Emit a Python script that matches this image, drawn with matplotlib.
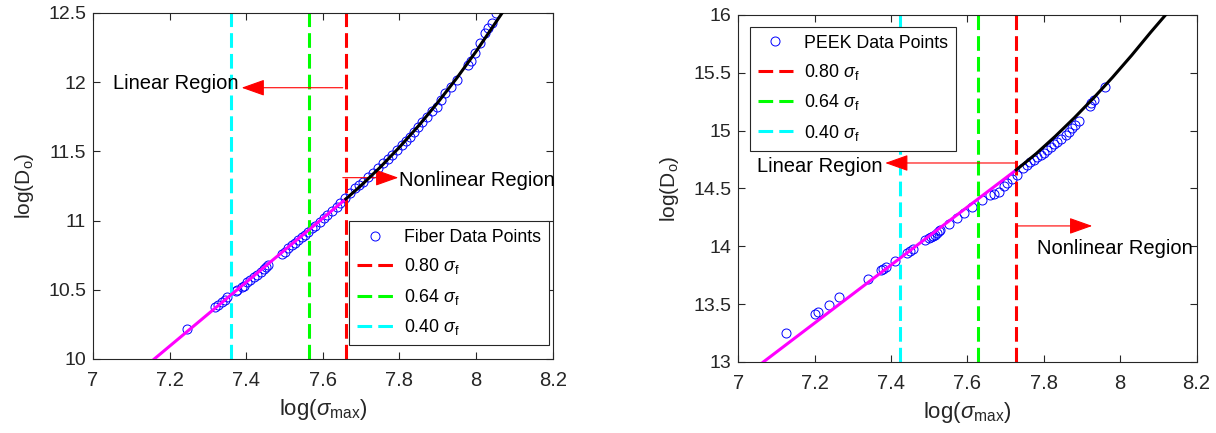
import matplotlib
matplotlib.use('Agg')
import matplotlib.pyplot as plt
from matplotlib.ticker import FormatStrFormatter

plt.rcParams['font.family'] = ['Liberation Sans', 'DejaVu Sans']
plt.rcParams['mathtext.fontset'] = 'custom'
plt.rcParams['mathtext.rm'] = 'Liberation Sans'
plt.rcParams['mathtext.it'] = 'Liberation Sans:italic'

# fiber data
fiber_x = [7.246, 7.319, 7.327, 7.336, 7.344, 7.351, 7.372, 7.377, 7.388, 7.394,
           7.402, 7.410, 7.420, 7.427, 7.438, 7.446, 7.452, 7.458, 7.494, 7.501,
           7.510, 7.520, 7.528, 7.536, 7.545, 7.554, 7.562, 7.571, 7.580, 7.593,
           7.602, 7.610, 7.624, 7.636, 7.645, 7.658, 7.671, 7.684, 7.695, 7.706,
           7.719, 7.732, 7.745, 7.758, 7.769, 7.780, 7.793, 7.806, 7.817, 7.828,
           7.838, 7.849, 7.860, 7.871, 7.884, 7.897, 7.908, 7.919, 7.935, 7.950,
           7.980, 7.987, 7.997, 8.010, 8.023, 8.031, 8.041, 8.051]
fiber_y = [10.215, 10.373, 10.392, 10.414, 10.428, 10.446, 10.490, 10.499, 10.518, 10.530,
           10.553, 10.571, 10.592, 10.607, 10.631, 10.648, 10.664, 10.679, 10.762, 10.775,
           10.800, 10.822, 10.840, 10.860, 10.878, 10.896, 10.918, 10.944, 10.962, 10.992,
           11.018, 11.040, 11.070, 11.100, 11.128, 11.161, 11.196, 11.233, 11.258, 11.281,
           11.313, 11.342, 11.378, 11.414, 11.444, 11.474, 11.508, 11.546, 11.576, 11.606,
           11.642, 11.678, 11.713, 11.751, 11.790, 11.823, 11.870, 11.920, 11.968, 12.016,
           12.124, 12.150, 12.209, 12.281, 12.353, 12.390, 12.426, 12.498]
fiber_lin_x = [7.16, 7.66]
fiber_lin_y = [10.0, 11.156]
fiber_nl_x = [7.66, 7.70, 7.75, 7.80, 7.85, 7.90, 7.95, 8.00, 8.068]
fiber_nl_y = [11.156, 11.254, 11.386, 11.53, 11.685, 11.853, 12.031, 12.222, 12.5]
fiber_sigma = [7.66, 7.564, 7.36]

# PEEK data
peek_x = [7.126, 7.200, 7.209, 7.238, 7.265, 7.340, 7.375, 7.380, 7.387, 7.410,
          7.442, 7.450, 7.457, 7.490, 7.500, 7.505, 7.510, 7.515, 7.520, 7.525,
          7.529, 7.551, 7.573, 7.590, 7.612, 7.638, 7.660, 7.670, 7.682, 7.695,
          7.705, 7.717, 7.730, 7.745, 7.756, 7.765, 7.775, 7.783, 7.792, 7.800,
          7.809, 7.818, 7.826, 7.835, 7.845, 7.857, 7.866, 7.875, 7.883, 7.892,
          7.920, 7.925, 7.931, 7.960]
peek_y = [13.254, 13.413, 13.430, 13.494, 13.560, 13.718, 13.796, 13.806, 13.825, 13.876,
          13.946, 13.962, 13.980, 14.055, 14.072, 14.082, 14.090, 14.100, 14.113, 14.128,
          14.142, 14.194, 14.243, 14.286, 14.343, 14.401, 14.444, 14.455, 14.473, 14.520,
          14.545, 14.580, 14.620, 14.680, 14.705, 14.725, 14.750, 14.770, 14.790, 14.810,
          14.835, 14.855, 14.880, 14.905, 14.930, 14.965, 14.990, 15.020, 15.050, 15.080,
          15.210, 15.240, 15.265, 15.380]
peek_lin_x = [7.066, 7.728]
peek_lin_y = [13.0, 14.66]
peek_nl_x = [7.728, 7.78, 7.83, 7.88, 7.93, 7.98, 8.03, 8.08, 8.119]
peek_nl_y = [14.66, 14.80, 14.95, 15.11, 15.28, 15.46, 15.65, 15.85, 16.0]
peek_sigma = [7.728, 7.629, 7.424]

sigma_labels = [r'0.80 $\sigma_{\mathrm{f}}$', r'0.64 $\sigma_{\mathrm{f}}$', r'0.40 $\sigma_{\mathrm{f}}$']
sigma_colors = ['#ff0000', '#00ff00', '#00ffff']

fig = plt.figure(figsize=(12.16, 4.33), dpi=100)
ax1 = fig.add_axes([0.0765, 0.171, 0.378, 0.799])
ax2 = fig.add_axes([0.607, 0.164, 0.377, 0.8016])


def draw_panel(ax, px, py, lin_x, lin_y, nl_x, nl_y, sigmas, name, ylim, yticks):
    pts, = ax.plot(px, py, 'o', mfc='none', mec='#0000ff', ms=6.5, mew=0.7,
                   label=name + ' Data Points')
    handles = [pts]
    for s, c, lab in zip(sigmas, sigma_colors, sigma_labels):
        h = ax.axvline(s, color=c, lw=2.2, dashes=(4.8, 2.0), label=lab)
        handles.append(h)
    ax.plot(lin_x, lin_y, color='#ff00ff', lw=2.2, zorder=4)
    ax.plot(nl_x, nl_y, color='black', lw=2.2, zorder=4)
    ax.set_xlim(7, 8.2)
    ax.set_ylim(*ylim)
    ax.set_xticks([7, 7.2, 7.4, 7.6, 7.8, 8, 8.2])
    ax.set_yticks(yticks)
    ax.xaxis.set_major_formatter(FormatStrFormatter('%g'))
    ax.yaxis.set_major_formatter(FormatStrFormatter('%g'))
    ax.tick_params(direction='in', top=True, right=True, length=5, width=0.8,
                   colors='#262626', labelcolor='#262626')
    ax.tick_params(axis='x', labelsize=14.5, pad=9)
    ax.tick_params(axis='y', labelsize=14, pad=5)
    for sp in ax.spines.values():
        sp.set_color('#262626')
        sp.set_linewidth(0.8)
    ax.set_xlabel(r'log($\sigma_{\mathrm{max}}$)', fontsize=16, color='#262626', labelpad=5)
    ax.set_ylabel(r'log(D$_{\mathrm{o}}$)', fontsize=15, color='#262626', labelpad=9)
    return handles


h1 = draw_panel(ax1, fiber_x, fiber_y, fiber_lin_x, fiber_lin_y, fiber_nl_x, fiber_nl_y,
                fiber_sigma, 'Fiber', (10, 12.5), [10, 10.5, 11, 11.5, 12, 12.5])
h2 = draw_panel(ax2, peek_x, peek_y, peek_lin_x, peek_lin_y, peek_nl_x, peek_nl_y,
                peek_sigma, 'PEEK', (13, 16), [13, 13.5, 14, 14.5, 15, 15.5, 16])

leg_kw = dict(fontsize=12.8, frameon=True, fancybox=False, framealpha=1,
              edgecolor='#262626', borderaxespad=0, handlelength=2.0,
              labelspacing=0.58, borderpad=0.45, handletextpad=0.6)
leg1 = ax1.legend(handles=h1, loc='lower right', bbox_to_anchor=(0.991, 0.04), **leg_kw)
leg2 = ax2.legend(handles=h2, loc='upper left', bbox_to_anchor=(0.025, 0.966), **leg_kw)
for leg in (leg1, leg2):
    leg.get_frame().set_linewidth(0.8)

arrow = dict(arrowstyle='-|>,head_length=0.9,head_width=0.32', color='red', lw=0.8,
             mutation_scale=16, shrinkA=0, shrinkB=0)

# fiber region labels
ax1.annotate('', xy=(7.388, 11.96), xytext=(7.652, 11.96), arrowprops=arrow)
ax1.text(7.379, 11.99, 'Linear Region', ha='right', va='center', fontsize=14.5)
ax1.annotate('', xy=(7.797, 11.31), xytext=(7.652, 11.31), arrowprops=arrow)
ax1.text(7.80, 11.29, 'Nonlinear Region', ha='left', va='center', fontsize=14.5)

# PEEK region labels
ax2.annotate('', xy=(7.385, 14.72), xytext=(7.726, 14.72), arrowprops=arrow)
ax2.text(7.377, 14.69, 'Linear Region', ha='right', va='center', fontsize=14.5)
ax2.annotate('', xy=(7.927, 14.176), xytext=(7.726, 14.176), arrowprops=arrow)
ax2.text(7.7825, 13.98, 'Nonlinear Region', ha='left', va='center', fontsize=14.5)

fig.savefig('out.png', dpi=100)
